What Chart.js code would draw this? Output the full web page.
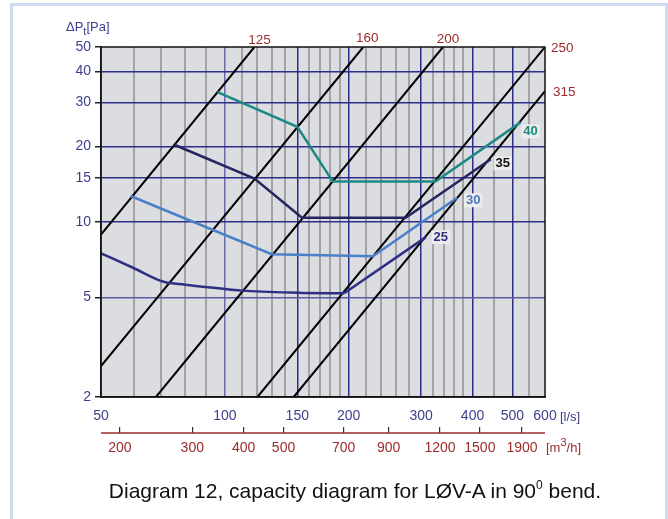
<!DOCTYPE html>
<html>
<head>
<meta charset="utf-8">
<script src="https://cdn.jsdelivr.net/npm/chart.js@4.4.1/dist/chart.umd.min.js"></script>
<style>
    body { margin: 0; background: #fff; overflow: hidden; }
    #wrap { position: relative; width: 668px; height: 519px; font-family: 'Liberation Sans', Arial, sans-serif; }
    #frame { position: absolute; left: 10px; top: 3px; width: 652px; height: 540px; border: 3px solid #d0d9f0; }
    canvas { position: absolute; left: 0; top: 0; }
    .txt { position: absolute; white-space: nowrap; line-height: 13px; font-size: 13px; }
    #yunit { left: 66px; top: 20px; color: #3c3f8c; }
    #yunit sub { font-size: 11px; vertical-align: -4px; line-height: 0; }
    #xunit { left: 560px; top: 410px; color: #3c3f8c; }
    #x2unit { left: 546px; top: 441px; color: #9c2b2b; }
    #x2unit sup { font-size: 11px; vertical-align: 6px; line-height: 0; }
    #caption { position: absolute; left: 0; width: 710px; top: 480px; text-align: center; font-size: 21px; line-height: 21px; color: #111; }
    #caption sup { font-size: 12px; vertical-align: 9px; line-height: 0; }
</style>
</head>
<body>
<div id="wrap">
    <div id="frame"></div>
    <canvas id="chart" width="668" height="519"></canvas>
    <div class="txt" id="yunit">&Delta;P<sub>t</sub>[Pa]</div>
    <div class="txt" id="xunit">[l/s]</div>
    <div class="txt" id="x2unit">[m<sup>3</sup>/h]</div>
    <div id="caption">Diagram 12, capacity diagram for LØV-A in 90<sup>0</sup> bend.</div>
</div>
<script>
// Axis values
const flowGrid = [50, 60, 70, 80, 90, 100, 110, 120, 130, 140, 150, 160, 170, 180, 190, 200,
    220, 240, 260, 280, 300, 320, 340, 360, 380, 400, 450, 500, 550, 600];
const flowMajor = [100, 150, 200, 300, 400, 500];
const flowLabels = [50, 100, 150, 200, 300, 400, 500, 600];
const pressTicks = [2, 5, 10, 15, 20, 30, 40, 50];
const m3hTicks = [200, 300, 400, 500, 700, 900, 1200, 1500, 1900];

// Duct size lines (l/s, Pa)
const ductNames = ['125', '160', '200', '250', '315'];
const duct125 = [{x: 50, y: 8.9}, {x: 118, y: 50}];
const duct160 = [{x: 50, y: 2.66}, {x: 217, y: 50}];
const duct200 = [{x: 68, y: 2}, {x: 339, y: 50}];
const duct250 = [{x: 120, y: 2}, {x: 600, y: 50}];
const duct315 = [{x: 147, y: 2}, {x: 600, y: 33.3}];

// Capacity curves
const curveNames = ['40', '35', '30', '25'];
const curve40 = [{x: 96, y: 33}, {x: 150, y: 24}, {x: 183, y: 14.5}, {x: 325, y: 14.5}, {x: 523, y: 25}];
const curve35 = [{x: 75.6, y: 20.3}, {x: 118, y: 14.9}, {x: 154, y: 10.4}, {x: 275, y: 10.4}, {x: 443, y: 17.8}];
const curve30 = [{x: 59, y: 12.7}, {x: 130, y: 7.44}, {x: 229, y: 7.3}, {x: 367, y: 12.5}];
const curve25 = [{x: 50, y: 7.5}, {x: 60, y: 6.55}, {x: 71, y: 5.77}, {x: 80, y: 5.62}, {x: 95, y: 5.45},
    {x: 110, y: 5.32}, {x: 150, y: 5.22}, {x: 195, y: 5.19}];
const curve25end = [{x: 195, y: 5.19}, {x: 308, y: 8.7}];

const FONT = "'Liberation Sans', Arial, sans-serif";
const RED = '#9c2b2b';
const AXIS_BLUE = '#3c3f8c';
const curveColors = ['#1b8a84', '#25255f', '#4a80c8', '#2e3083'];
const curveTextColors = ['#1b8a84', '#111111', '#4a78c0', '#2e3083'];

// label placement relative to the end point of each line (dx, dy, align)
const ductLabelPos = [[5, -7, 'center'], [4, -9, 'center'], [5, -8, 'center'], [6, 1, 'left'], [8, 1, 'left']];
const curveLabelPos = [[10, 9], [12, 4], [16, 2.5], [15, 0]];

function lineSet(data, color, width, extra) {
    return Object.assign({
        data: data,
        showLine: true,
        borderColor: color,
        borderWidth: width,
        pointRadius: 0,
        fill: false
    }, extra || {});
}

const curveSets = [curve40, curve35, curve30, curve25end];
const ductSets = [duct125, duct160, duct200, duct250, duct315];

const overlay = {
    id: 'overlay',
    beforeDraw(chart) {
        const {ctx, chartArea: a} = chart;
        ctx.save();
        ctx.fillStyle = '#dcdde0';
        ctx.fillRect(a.left, a.top, a.right - a.left, a.bottom - a.top);
        ctx.restore();
    },
    afterDatasetsDraw(chart) {
        const {ctx, chartArea: a, scales} = chart;
        const x = scales.x, y = scales.y, x2 = scales.x2;
        ctx.save();

        // plot frame
        ctx.strokeStyle = '#111';
        ctx.lineWidth = 1.5;
        ctx.strokeRect(a.left, a.top, a.right - a.left, a.bottom - a.top);

        // m3/h axis line
        const ly = x2.top + 6;
        ctx.strokeStyle = RED;
        ctx.lineWidth = 1.5;
        ctx.beginPath();
        ctx.moveTo(a.left, ly);
        ctx.lineTo(a.right, ly);
        ctx.stroke();

        // duct size labels
        ctx.font = '13.5px ' + FONT;
        ctx.fillStyle = RED;
        ctx.textBaseline = 'middle';
        ductSets.forEach((pts, i) => {
            const end = pts[pts.length - 1];
            const p = ductLabelPos[i];
            ctx.textAlign = p[2];
            ctx.fillText(ductNames[i], x.getPixelForValue(end.x) + p[0], y.getPixelForValue(end.y) + p[1]);
        });

        // curve labels on a light box
        ctx.font = 'bold 13px ' + FONT;
        ctx.textAlign = 'center';
        curveSets.forEach((pts, i) => {
            const end = pts[pts.length - 1];
            const cx = x.getPixelForValue(end.x) + curveLabelPos[i][0];
            const cy = y.getPixelForValue(end.y) + curveLabelPos[i][1];
            const w = ctx.measureText(curveNames[i]).width + 4;
            ctx.fillStyle = '#ececec';
            ctx.fillRect(cx - w / 2, cy - 7, w, 14);
            ctx.fillStyle = curveTextColors[i];
            ctx.fillText(curveNames[i], cx, cy + 0.5);
        });
        ctx.restore();
    }
};

const chart = new Chart(document.getElementById('chart'), {
    type: 'scatter',
    data: {
        datasets: [
            lineSet(curve40, curveColors[0], 2.5),
            lineSet(curve35, curveColors[1], 2.5),
            lineSet(curve30, curveColors[2], 2.5),
            lineSet(curve25, curveColors[3], 2.5, {cubicInterpolationMode: 'monotone'}),
            lineSet(curve25end, curveColors[3], 2.5),
            lineSet(duct125, '#000', 2),
            lineSet(duct160, '#000', 2),
            lineSet(duct200, '#000', 2),
            lineSet(duct250, '#000', 2),
            lineSet(duct315, '#000', 2)
        ]
    },
    options: {
        responsive: false,
        animation: false,
        events: [],
        layout: { padding: { left: 0, right: 123, top: 47, bottom: 52 } },
        plugins: { legend: { display: false }, tooltip: { enabled: false } },
        scales: {
            x: {
                type: 'logarithmic',
                position: 'bottom',
                min: 50,
                max: 600,
                weight: 0,
                afterBuildTicks: (scale) => { scale.ticks = flowGrid.map(v => ({value: v})); },
                afterFit: (scale) => { scale.height = 30; },
                ticks: {
                    autoSkip: false,
                    maxRotation: 0,
                    padding: 11,
                    color: AXIS_BLUE,
                    font: { family: FONT, size: 14 },
                    callback: (v) => flowLabels.includes(v) ? String(v) : ''
                },
                grid: {
                    drawTicks: false,
                    color: (c) => {
                        const v = c.tick && c.tick.value;
                        if (v === 50 || v === 600) return 'rgba(0,0,0,0)';
                        if (v === 100) return '#6a6caa';
                        return flowMajor.includes(v) ? '#2c2f88' : '#a3a3a5';
                    },
                    lineWidth: (c) => {
                        const v = c.tick && c.tick.value;
                        return flowMajor.includes(v) ? 1.5 : 2;
                    }
                },
                border: { display: true, color: '#111', width: 1.5 }
            },
            x2: {
                type: 'logarithmic',
                position: 'bottom',
                min: 50 * 3.6,
                max: 600 * 3.6,
                weight: 1,
                afterBuildTicks: (scale) => { scale.ticks = m3hTicks.map(v => ({value: v})); },
                afterFit: (scale) => { scale.height = 40; },
                ticks: {
                    autoSkip: false,
                    maxRotation: 0,
                    padding: 7,
                    color: RED,
                    font: { family: FONT, size: 14 },
                    callback: (v) => String(v)
                },
                grid: { drawOnChartArea: false, drawTicks: true, tickLength: 6, color: '#333', lineWidth: 1.2 },
                border: { display: false }
            },
            y: {
                type: 'logarithmic',
                position: 'left',
                min: 2,
                max: 50,
                afterBuildTicks: (scale) => { scale.ticks = pressTicks.map(v => ({value: v})); },
                afterFit: (scale) => { scale.width = 101; },
                ticks: {
                    autoSkip: false,
                    padding: 4,
                    color: AXIS_BLUE,
                    font: { family: FONT, size: 14 },
                    callback: (v) => String(v)
                },
                grid: {
                    tickLength: 6,
                    tickColor: '#222',
                    color: (c) => {
                        const v = c.tick && c.tick.value;
                        if (v === 2 || v === 50) return 'rgba(0,0,0,0)';
                        return v === 5 ? '#5a5da2' : '#2c2f88';
                    },
                    lineWidth: 1.5
                },
                border: { display: true, color: '#111', width: 1.5 }
            }
        }
    },
    plugins: [overlay]
});
</script>
</body>
</html>
